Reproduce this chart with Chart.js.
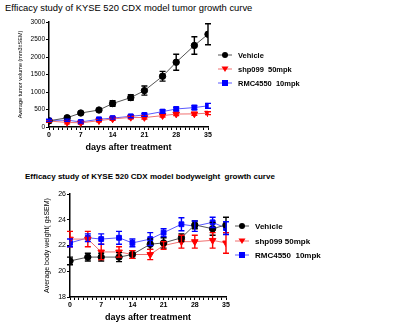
<!DOCTYPE html>
<html><head><meta charset="utf-8">
<script src="https://cdn.jsdelivr.net/npm/chart.js@4"></script>
<style>
html,body{margin:0;padding:0;background:#fff;width:409px;height:327px;overflow:hidden;font-family:"Liberation Sans",Arial,sans-serif;}
.c{position:absolute;left:0;}
.t{position:absolute;white-space:nowrap;color:#000;}
.lg{position:absolute;white-space:nowrap;font-weight:bold;color:#000;display:flex;align-items:center;}
.lg svg{margin-right:5px;}
</style></head>
<body>
<div class="t" style="left:5px;top:2px;font-size:9.4px;">Efficacy study of KYSE 520 CDX model tumor growth curve</div>
<div class="t" style="left:25px;top:172px;font-size:8px;font-weight:bold;">Efficacy study of KYSE 520 CDX model bodyweight&nbsp; growth curve</div>
<canvas id="c1" class="c" style="top:0px" width="409" height="160"></canvas>
<canvas id="c2" class="c" style="top:160px" width="409" height="167"></canvas>
<div id="leg1"></div><div id="leg2"></div>
<script>
const days = [0,4,7,11,14,18,21,25,28,32,35];
const seriesNames = ['Vehicle','shp099  50mpk','RMC4550  10mpk'];
const seriesNames2 = ['Vehicle','shp099 50mpk','RMC4550  10mpk'];
const tumorVehicle    = [175,265,400,485,670,840,1040,1450,1850,2330,2650];
const tumorVehicleErr = [30,40,40,40,80,80,130,140,230,250,300];
const tumorShp        = [170,130,120,180,230,275,270,325,370,375,395];
const tumorShpErr     = [30,40,30,30,40,40,40,40,40,40,40];
const tumorRmc        = [190,195,145,220,255,305,345,440,515,555,605];
const tumorRmcErr     = [30,30,30,30,30,40,40,50,50,60,70];
const bwVehicle    = [20.8,21.1,21.1,21.1,21.3,22.1,22.2,22.6,23.6,23.3,23.6];
const bwVehicleErr = [0.3,0.3,0.3,0.35,0.3,0.4,0.4,0.3,0.3,0.5,0.6];
const bwShp        = [22.5,22.5,21.5,21.5,21.3,21.3,22.0,22.3,22.3,22.4,22.2];
const bwShpErr     = [0.6,0.6,0.6,0.4,0.3,0.4,0.3,0.5,0.5,0.6,0.8];
const bwRmc        = [22.2,22.6,22.5,22.6,22.2,22.5,23.0,23.65,23.5,23.8,23.35];
const bwRmcErr     = [0.3,0.3,0.4,0.5,0.3,0.5,0.3,0.5,0.4,0.4,0.5];
const tumorTicks = [0,500,1000,1500,2000,2500,3000];
const bwTicks = [18,20,22,24,26];
const xTickLabels = [0,7,14,21,28,35];

const FONT = '"Liberation Sans", Arial, sans-serif';
const styles = [
  {mark:'#000', line:'#555', ps:'circle', rot:0, r:3.2},
  {mark:'#ff0000', line:'#f07070', ps:'triangle', rot:180, r:3.8},
  {mark:'#0000ff', line:'#5a5aff', ps:'rect', rot:0, r:3.4}
];

function mkDatasets(names, vals, errs){
  return names.map((n,i)=>({
    label:n,
    data: days.map((d,j)=>({x:d,y:vals[i][j]})),
    err: errs[i],
    borderColor: styles[i].line,
    borderWidth: 1,
    backgroundColor: styles[i].mark,
    pointBackgroundColor: styles[i].mark,
    pointBorderColor: styles[i].mark,
    pointStyle: styles[i].ps,
    rotation: styles[i].rot,
    pointRadius: styles[i].r,
    pointBorderWidth: 1,
    tension: 0
  }));
}

const errPlugin = {
  id:'errbars',
  afterDatasetsDraw(chart){
    const ctx = chart.ctx;
    const ys = chart.scales.y, xs = chart.scales.x;
    chart.data.datasets.forEach((ds,i)=>{
      ctx.save();
      ctx.strokeStyle = styles[i].mark;
      ctx.lineWidth = 1.4;
      ds.data.forEach((p,j)=>{
        const e = ds.err[j];
        const x = xs.getPixelForValue(p.x);
        const y1 = ys.getPixelForValue(p.y + e), y2 = ys.getPixelForValue(p.y - e);
        ctx.beginPath();
        ctx.moveTo(x,y1); ctx.lineTo(x,y2);
        ctx.moveTo(x-3,y1); ctx.lineTo(x+3,y1);
        ctx.moveTo(x-3,y2); ctx.lineTo(x+3,y2);
        ctx.stroke();
      });
      ctx.restore();
    });
  }
};

function mkChart(id, datasets, cfg){
  return new Chart(document.getElementById(id), {
    type:'line',
    data:{datasets},
    plugins:[errPlugin],
    options:{
      responsive:false, animation:false,
      layout:{padding:cfg.pad},
      plugins:{legend:{display:false}, tooltip:{enabled:false}, title:{display:false}},
      scales:{
        x:{type:'linear', min:0, max:35,
          afterFit(s){ s.height = cfg.xh; },
          border:{color:'#000', width:1.5},
          grid:{drawOnChartArea:false, tickLength:3, tickColor:'#000', tickWidth:1},
          ticks:{stepSize:1, autoSkip:false, maxRotation:0, padding:1,
            callback:(v)=> xTickLabels.includes(v) ? String(v) : '',
            font:{family:FONT, size:cfg.xtf, weight:'bold'}, color:'#000'},
          title:{display:true, text:'days after treatment', color:'#000',
            font:{family:FONT, size:9, weight:'bold'}, padding:cfg.xtp}
        },
        y:{type:'linear', min:cfg.ymin, max:cfg.ymax,
          afterFit(s){ s.width = cfg.yw; },
          afterBuildTicks(s){ s.ticks = cfg.yticks.map(v=>({value:v})); },
          border:{color:'#000', width:1.5},
          grid:{drawOnChartArea:false, tickLength:3, tickColor:'#000', tickWidth:1},
          ticks:{padding:1, font:{family:FONT, size:cfg.ytf}, color:'#000', callback:(v)=>String(v)},
          title:{display:true, text:cfg.ytitle, color:'#000',
            font:{family:FONT, size:cfg.ytfs}, padding:cfg.ytp}
        }
      }
    }
  });
}

mkChart('c1', mkDatasets(seriesNames,[tumorVehicle,tumorShp,tumorRmc],[tumorVehicleErr,tumorShpErr,tumorRmcErr]), {
  pad:{top:22,right:201,left:0,bottom:0}, xh:33, yw:49, ymin:0, ymax:3000, yticks:tumorTicks,
  xtf:7, ytf:6.5, ytitle:'Average tumor volume (mm3±SEM)', ytfs:5.5, ytp:{top:17,bottom:0}, xtp:{top:2,bottom:7}
});
mkChart('c2', mkDatasets(seriesNames2,[bwVehicle,bwShp,bwRmc],[bwVehicleErr,bwShpErr,bwRmcErr]), {
  pad:{top:34,right:183,left:0,bottom:0}, xh:30, yw:70, ymin:18, ymax:26, yticks:bwTicks,
  xtf:7, ytf:7, ytitle:'Average body weight( g±SEM)', ytfs:7, ytp:{top:43,bottom:0}, xtp:{top:2,bottom:4}
});

function markerSvg(i){
  const s = styles[i];
  let m = '';
  if (s.ps==='circle') m = '<circle cx="8" cy="5" r="3" fill="'+s.mark+'"/>';
  else if (s.ps==='triangle') m = '<polygon points="4.5,2.5 11.5,2.5 8,8" fill="'+s.mark+'"/>';
  else m = '<rect x="5" y="2" width="6" height="6" fill="'+s.mark+'"/>';
  return '<svg width="16" height="10"><line x1="1" y1="5" x2="15" y2="5" stroke="'+s.line+'" stroke-width="1"/>'+m+'</svg>';
}
function legend(id, names, left, tops, fs){
  document.getElementById(id).innerHTML = names.map((n,i)=>
    '<div class="lg" style="left:'+left+'px;top:'+tops[i]+'px;font-size:'+fs+'px;">'+markerSvg(i)+'<span>'+n.replace(/  /g,'&nbsp; ')+'</span></div>').join('');
}
legend('leg1', seriesNames, 217, [50,64,78], 7.5);
legend('leg2', seriesNames2, 234, [221,236,250], 8);
</script>
</body></html>
